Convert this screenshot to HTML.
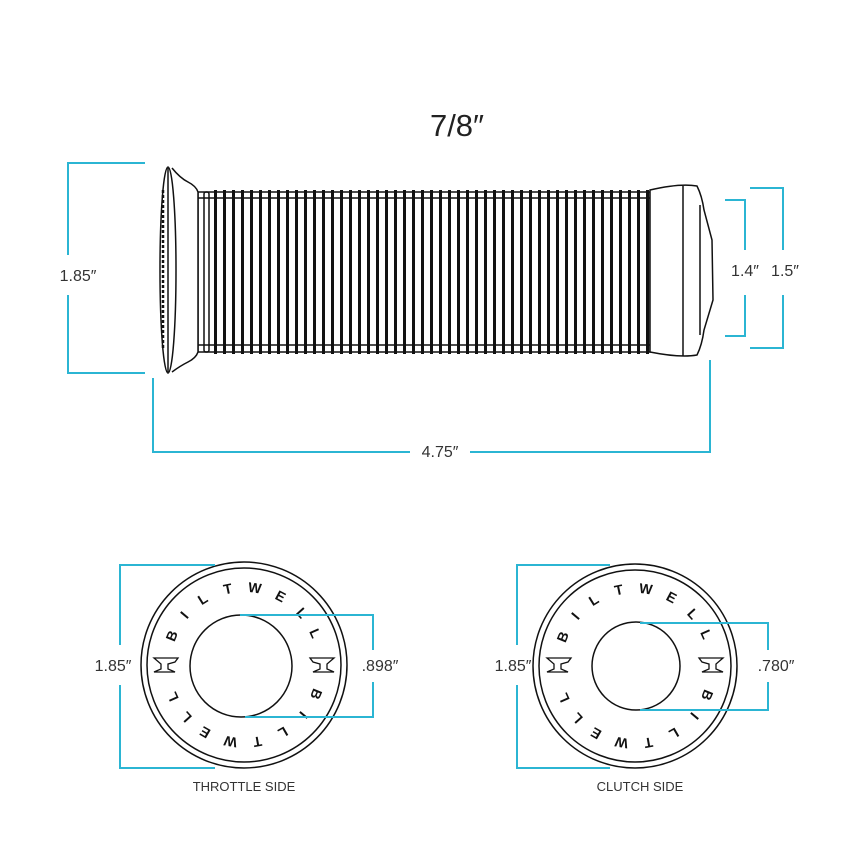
<!DOCTYPE html>
<html><head><meta charset="utf-8"><style>
html,body{margin:0;padding:0;background:#fff}
svg{display:block}
text{font-family:"Liberation Sans",sans-serif}
</style></head><body>
<svg width="850" height="850" viewBox="0 0 850 850" xmlns="http://www.w3.org/2000/svg">
<text x="457" y="136" font-size="31" text-anchor="middle" fill="#222">7/8″</text>

<!-- grip body -->
<g stroke="#111" fill="none" stroke-width="1.5">
  <rect x="198" y="192" width="452" height="160" fill="#fff"/>
  <line x1="198" y1="198" x2="650" y2="198"/>
  <line x1="198" y1="345" x2="650" y2="345"/>
  <path d="M172,168 Q180,178 188,182 Q196,186 198,192 L198,352 Q196,358 188,362 Q180,366 172,372" fill="#fff"/>
  <ellipse cx="168" cy="270" rx="8" ry="103" fill="#fff"/>
  <line x1="168" y1="168" x2="168" y2="372"/>
  <line x1="163" y1="190" x2="163" y2="350" stroke-width="2.5" stroke-dasharray="3 2"/>
  <rect x="204" y="192" width="5" height="160" rx="2"/>
  <path d="M650,190 Q680,183 697,186 Q702,196 704,210 L712,240 L713,300 L704,330 Q702,345 697,355 Q680,358 650,352 Z" fill="#fff"/>
  <line x1="683" y1="186" x2="683" y2="356"/>
  <line x1="700" y1="205" x2="700" y2="335"/>
</g>
<g fill="#111">
  <rect x="214" y="190" width="3" height="164"/><rect x="223" y="190" width="3" height="164"/><rect x="232" y="190" width="3" height="164"/><rect x="241" y="190" width="3" height="164"/><rect x="250" y="190" width="3" height="164"/><rect x="259" y="190" width="3" height="164"/><rect x="268" y="190" width="3" height="164"/><rect x="277" y="190" width="3" height="164"/><rect x="286" y="190" width="3" height="164"/><rect x="295" y="190" width="3" height="164"/><rect x="304" y="190" width="3" height="164"/><rect x="313" y="190" width="3" height="164"/><rect x="322" y="190" width="3" height="164"/><rect x="331" y="190" width="3" height="164"/><rect x="340" y="190" width="3" height="164"/><rect x="349" y="190" width="3" height="164"/><rect x="358" y="190" width="3" height="164"/><rect x="367" y="190" width="3" height="164"/><rect x="376" y="190" width="3" height="164"/><rect x="385" y="190" width="3" height="164"/><rect x="394" y="190" width="3" height="164"/><rect x="403" y="190" width="3" height="164"/><rect x="412" y="190" width="3" height="164"/><rect x="421" y="190" width="3" height="164"/><rect x="430" y="190" width="3" height="164"/><rect x="439" y="190" width="3" height="164"/><rect x="448" y="190" width="3" height="164"/><rect x="457" y="190" width="3" height="164"/><rect x="466" y="190" width="3" height="164"/><rect x="475" y="190" width="3" height="164"/><rect x="484" y="190" width="3" height="164"/><rect x="493" y="190" width="3" height="164"/><rect x="502" y="190" width="3" height="164"/><rect x="511" y="190" width="3" height="164"/><rect x="520" y="190" width="3" height="164"/><rect x="529" y="190" width="3" height="164"/><rect x="538" y="190" width="3" height="164"/><rect x="547" y="190" width="3" height="164"/><rect x="556" y="190" width="3" height="164"/><rect x="565" y="190" width="3" height="164"/><rect x="574" y="190" width="3" height="164"/><rect x="583" y="190" width="3" height="164"/><rect x="592" y="190" width="3" height="164"/><rect x="601" y="190" width="3" height="164"/><rect x="610" y="190" width="3" height="164"/><rect x="619" y="190" width="3" height="164"/><rect x="628" y="190" width="3" height="164"/><rect x="637" y="190" width="3" height="164"/><rect x="646" y="190" width="3" height="164"/>
</g>

<!-- dimension lines top -->
<g stroke="#2bb5d3" stroke-width="2" fill="none">
  <polyline points="145,163 68,163 68,255"/>
  <polyline points="68,295 68,373 145,373"/>
  <polyline points="153,378 153,452 410,452"/>
  <polyline points="470,452 710,452 710,360"/>
  <polyline points="725,200 745,200 745,250"/>
  <polyline points="745,295 745,336 725,336"/>
  <polyline points="750,188 783,188 783,250"/>
  <polyline points="783,295 783,348 750,348"/>
</g>
<g font-size="16" fill="#333">
  <text x="78" y="281" text-anchor="middle">1.85″</text>
  <text x="440" y="457" text-anchor="middle">4.75″</text>
  <text x="745" y="276" text-anchor="middle">1.4″</text>
  <text x="785" y="276" text-anchor="middle">1.5″</text>
</g>

<!-- end circles -->
<g stroke="#111" stroke-width="1.5" fill="none">
  <circle cx="244" cy="665" r="103"/>
  <circle cx="244" cy="665" r="97"/>
  <circle cx="241" cy="666" r="51"/>
  <circle cx="635" cy="666" r="102"/>
  <circle cx="635" cy="666" r="96"/>
  <circle cx="636" cy="666" r="44"/>
</g>
<g font-size="14" font-weight="bold" fill="#111" font-family="Liberation Serif,serif" text-anchor="middle">
  <text x="244" y="592" transform="rotate(-68 244 665)">B</text>
  <text x="244" y="592" transform="rotate(-50 244 665)">I</text>
  <text x="244" y="592" transform="rotate(-32 244 665)">L</text>
  <text x="244" y="592" transform="rotate(-12 244 665)">T</text>
  <text x="244" y="592" transform="rotate(8 244 665)">W</text>
  <text x="244" y="592" transform="rotate(28 244 665)">E</text>
  <text x="244" y="592" transform="rotate(48 244 665)">L</text>
  <text x="244" y="592" transform="rotate(66 244 665)">L</text>
  <text x="244" y="592" transform="rotate(112 244 665)">B</text>
  <text x="244" y="592" transform="rotate(130 244 665)">I</text>
  <text x="244" y="592" transform="rotate(150 244 665)">L</text>
  <text x="244" y="592" transform="rotate(170 244 665)">T</text>
  <text x="244" y="592" transform="rotate(190 244 665)">W</text>
  <text x="244" y="592" transform="rotate(210 244 665)">E</text>
  <text x="244" y="592" transform="rotate(228 244 665)">L</text>
  <text x="244" y="592" transform="rotate(246 244 665)">L</text>
  <text x="635" y="593" transform="rotate(-68 635 666)">B</text>
  <text x="635" y="593" transform="rotate(-50 635 666)">I</text>
  <text x="635" y="593" transform="rotate(-32 635 666)">L</text>
  <text x="635" y="593" transform="rotate(-12 635 666)">T</text>
  <text x="635" y="593" transform="rotate(8 635 666)">W</text>
  <text x="635" y="593" transform="rotate(28 635 666)">E</text>
  <text x="635" y="593" transform="rotate(48 635 666)">L</text>
  <text x="635" y="593" transform="rotate(66 635 666)">L</text>
  <text x="635" y="593" transform="rotate(112 635 666)">B</text>
  <text x="635" y="593" transform="rotate(130 635 666)">I</text>
  <text x="635" y="593" transform="rotate(150 635 666)">L</text>
  <text x="635" y="593" transform="rotate(170 635 666)">T</text>
  <text x="635" y="593" transform="rotate(190 635 666)">W</text>
  <text x="635" y="593" transform="rotate(210 635 666)">E</text>
  <text x="635" y="593" transform="rotate(228 635 666)">L</text>
  <text x="635" y="593" transform="rotate(246 635 666)">L</text>
</g>
<!-- anvils -->
<g stroke="#111" stroke-width="1.3" fill="#fff">
  <path d="M154,658 L178,658 L175,662 L168,664 L168,669 L175,672 L154,672 L161,669 L161,664 Z"/>
  <path d="M334,658 L310,658 L313,662 L320,664 L320,669 L313,672 L334,672 L327,669 L327,664 Z"/>
  <path d="M547,658 L571,658 L568,662 L561,664 L561,669 L568,672 L547,672 L554,669 L554,664 Z"/>
  <path d="M723,658 L699,658 L702,662 L709,664 L709,669 L702,672 L723,672 L716,669 L716,664 Z"/>
</g>

<!-- bottom dimensions -->
<g stroke="#2bb5d3" stroke-width="2" fill="none">
  <polyline points="215,565 120,565 120,645"/>
  <polyline points="120,685 120,768 215,768"/>
  <polyline points="240,615 373,615 373,650"/>
  <polyline points="373,682 373,717 245,717"/>
  <polyline points="610,565 517,565 517,645"/>
  <polyline points="517,685 517,768 610,768"/>
  <polyline points="640,623 768,623 768,650"/>
  <polyline points="768,682 768,710 640,710"/>
</g>
<g font-size="16" fill="#333">
  <text x="113" y="671" text-anchor="middle">1.85″</text>
  <text x="380" y="671" text-anchor="middle">.898″</text>
  <text x="513" y="671" text-anchor="middle">1.85″</text>
  <text x="776" y="671" text-anchor="middle">.780″</text>
</g>
<g font-size="13" fill="#333" text-anchor="middle">
  <text x="244" y="791">THROTTLE SIDE</text>
  <text x="640" y="791">CLUTCH SIDE</text>
</g>
</svg>
</body></html>
